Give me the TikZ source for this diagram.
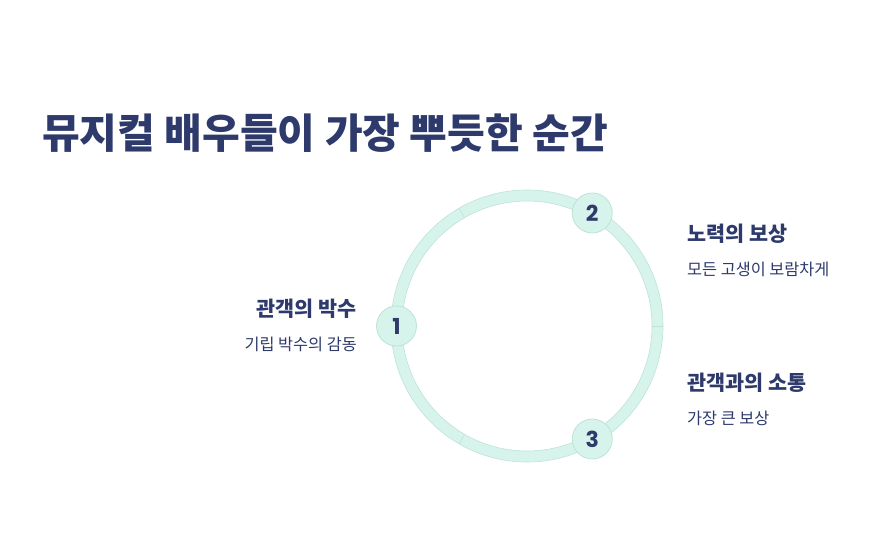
\documentclass[tikz,border=0pt]{standalone}
\usepackage{fontspec}
\setmainfont{Noto Sans CJK KR}
\newfontfamily\numfont{Poppins}
\usetikzlibrary{positioning,calc}
\definecolor{navy}{HTML}{2D3A6B}
\definecolor{mint}{HTML}{D6F4EC}
\definecolor{mintline}{HTML}{BEE3D6}

\begin{document}
\begin{tikzpicture}[x=1pt,y=-1pt,
  step node/.style={circle,fill=mint,draw=mintline,line width=0.8pt,minimum size=40pt,
    inner sep=0pt,font=\numfont\bfseries\fontsize{22}{22}\selectfont,text=navy},
  head/.style={font=\bfseries\fontsize{20.7}{24}\selectfont,text=navy,inner sep=0pt},
  sub/.style={font=\fontsize{16.3}{19}\selectfont,text=navy,inner sep=0pt}]

  \useasboundingbox (0,0) rectangle (870,543);

  \node[font=\bfseries\fontsize{41}{46}\selectfont,text=navy,inner sep=0pt,anchor=base west]
    (title) at (42,148) {뮤지컬 배우들이 가장 뿌듯한 순간};

  % ring
  \coordinate (c) at (527,326);
  \fill[mint,even odd rule] (c) circle (136) (c) circle (125);
  \draw[mintline,line width=0.6pt] (c) circle (136) (c) circle (125);
  \foreach \a in {0,120,240}
    \draw[mintline,line width=0.6pt] ($(c)+(\a:125)$) -- ($(c)+(\a:136)$);

  \node[step node] (s1) at ($(c)+(180:130.5)$) {1};
  \node[step node] (s2) at ($(c)+(300:130.5)$) {2};
  \node[step node] (s3) at ($(c)+(60:130.5)$) {3};

  \node[head,anchor=base east] (h1) at (357,316) {관객의 박수};
  \node[sub,below=19pt of h1.south east,anchor=north east] (t1) {기립 박수의 감동};

  \node[head,anchor=base west] (h2) at (687,241) {노력의 보상};
  \node[sub,below=19pt of h2.south west,anchor=north west] (t2) {모든 고생이 보람차게};

  \node[head,anchor=base west] (h3) at (687,390) {관객과의 소통};
  \node[sub,below=19pt of h3.south west,anchor=north west] (t3) {가장 큰 보상};

\end{tikzpicture}
\end{document}
